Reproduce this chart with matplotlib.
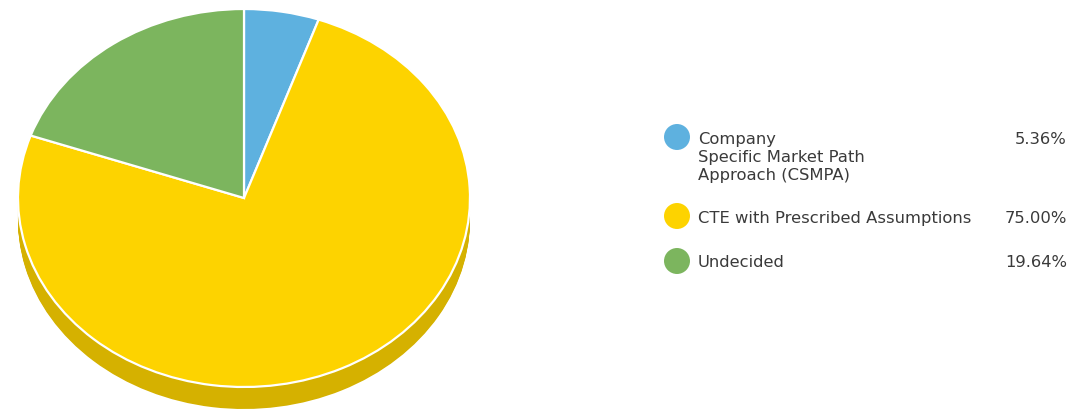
import matplotlib.pyplot as plt
import numpy as np
from matplotlib.colors import to_rgb

labels = ["Company\nSpecific Market Path\nApproach (CSMPA)",
          "CTE with Prescribed Assumptions",
          "Undecided"]
shares = [5.36, 75.00, 19.64]
colors = ["#5eb1df", "#fdd300", "#7cb55e"]

W, H = 1077, 412
fig = plt.figure(figsize=(W / 100, H / 100), dpi=100)

# pie axes in pixel-like units: top face is an ellipse, rx=226 px, ry=189 px
cx, cy, rx, ry, depth = 244, 198, 226, 189, 22
ax = fig.add_axes([0, 0, 1, 1])


def darker(c, f=0.84):
    return tuple(v * f for v in to_rgb(c))


# side of the pie: stack of darker copies shifted downwards
side_cols = [darker(c) for c in colors]
for d in np.linspace(depth / ry, 0, 24):
    ax.pie(shares, colors=side_cols, startangle=90, counterclock=False,
           center=(0, -d), radius=1, wedgeprops=dict(linewidth=0))

ax.pie(shares, colors=colors, startangle=90, counterclock=False,
       center=(0, 0), radius=1,
       wedgeprops=dict(edgecolor="white", linewidth=1.6))

ax.set_aspect("auto")
ax.set_autoscale_on(False)
ax.set_xlim(-cx / rx, (W - cx) / rx)
ax.set_ylim(-(H - cy) / ry, cy / ry)
ax.axis("off")

# legend drawn on its own pixel axes
lg = fig.add_axes([0, 0, 1, 1])
lg.set_xlim(0, W)
lg.set_ylim(H, 0)
lg.axis("off")
dot_y = [137, 216, 261]
base_y = [144, 223, 267]
line_h = 18
for yd, yb, lab, val, c in zip(dot_y, base_y, labels, shares, colors):
    lg.scatter([677], [yd], s=350, color=c, edgecolor="none")
    for k, line in enumerate(lab.split("\n")):
        lg.text(698, yb + k * line_h, line, fontsize=11.8, color="#3a3a3a",
                va="baseline", ha="left", family="DejaVu Sans")
    lg.text(1067, yb, f"{val:.2f}%", fontsize=11.8, color="#3a3a3a",
            va="baseline", ha="right", family="DejaVu Sans")

fig.savefig("out.png", dpi=100, facecolor="white")
